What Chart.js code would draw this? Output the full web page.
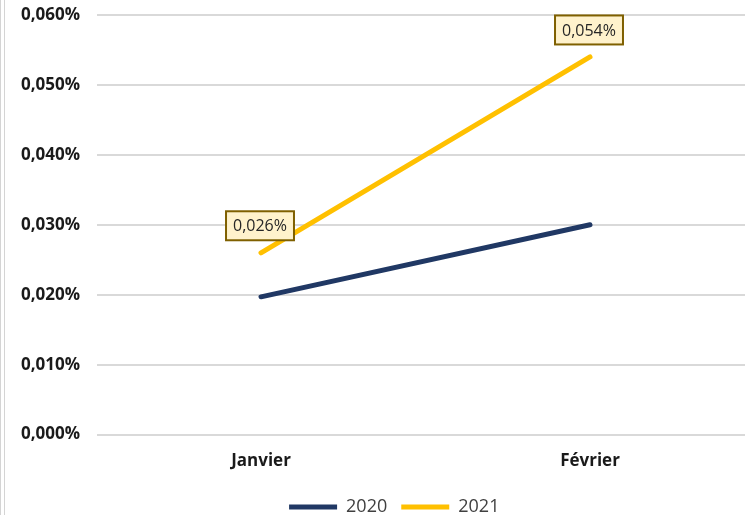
<!DOCTYPE html>
<html>
<head>
<meta charset="utf-8">
<script src="https://cdn.jsdelivr.net/npm/chart.js@4.4.1/dist/chart.umd.min.js"></script>
<style>
  html, body { margin:0; padding:0; background:#fff; overflow:hidden; width:745px; height:515px; }
  #wrap { position:absolute; left:0; top:0; width:760px; height:515px; }
  .edge { position:absolute; left:0; top:0; width:3px; height:515px; border-left:1px solid #d4d4d4; border-right:1px solid #d4d4d4; }
</style>
</head>
<body>
<div id="wrap"><canvas id="chart"></canvas></div>
<div class="edge"></div>
<script>
  const months = ['Janvier', 'Février'];
  const series2020 = [0.0197, 0.030];
  const series2021 = [0.026, 0.054];
  const yTicks = [0, 0.01, 0.02, 0.03, 0.04, 0.05, 0.06];

  const fmtPct = v => v.toFixed(3).replace('.', ',') + '%';

  // boxed value labels above the 2021 points
  const valueBoxes = {
    id: 'valueBoxes',
    afterDatasetsDraw(chart) {
      const ctx = chart.ctx;
      const meta = chart.getDatasetMeta(1);
      ctx.save();
      ctx.font = '16px "Open Sans"';
      ctx.textAlign = 'center';
      ctx.textBaseline = 'middle';
      meta.data.forEach((pt, i) => {
        const txt = fmtPct(series2021[i]);
        const w = ctx.measureText(txt).width + 14, h = 29;
        const cx = pt.x - 1, cy = pt.y - 27;
        ctx.fillStyle = '#fff2cc';
        ctx.fillRect(cx - w / 2, cy - h / 2, w, h);
        ctx.lineWidth = 2;
        ctx.strokeStyle = '#7f6000';
        ctx.strokeRect(cx - w / 2, cy - h / 2, w, h);
        ctx.fillStyle = '#262626';
        ctx.fillText(txt, cx, cy + 1);
      });
      ctx.restore();
    }
  };

  // nudge the legend row right and up a little
  const legendShift = {
    id: 'legendShift',
    afterLayout(chart) {
      const lg = chart.legend;
      lg.left += 10; lg.right += 10;
      lg.top -= 3; lg.bottom -= 3;
    }
  };

  new Chart(document.getElementById('chart'), {
    type: 'line',
    data: {
      labels: months,
      datasets: [
        { label: '2020', data: series2020, borderColor: '#203864', backgroundColor: '#203864',
          borderWidth: 5, borderCapStyle: 'round', pointRadius: 0, tension: 0 },
        { label: '2021', data: series2021, borderColor: '#ffc000', backgroundColor: '#ffc000',
          borderWidth: 5, borderCapStyle: 'round', pointRadius: 0, tension: 0 }
      ]
    },
    options: {
      responsive: true,
      maintainAspectRatio: false,
      animation: false,
      layout: { padding: { left: 14, right: 5.5, top: 15, bottom: -14 } },
      scales: {
        x: {
          offset: true,
          grid: { display: false, drawTicks: false },
          border: { display: false },
          ticks: { color: '#1a1a1a', font: { family: '"Open Sans"', size: 17, weight: 'bold' }, padding: 16 }
        },
        y: {
          min: 0, max: 0.06,
          afterBuildTicks: s => { s.ticks = yTicks.map(v => ({ value: v })); },
          afterFit: s => { s.width = 82.5; s.paddingTop = 0; s.paddingBottom = 0; },
          grid: { color: '#d9d9d9', lineWidth: 2, drawTicks: false },
          border: { display: false },
          ticks: { color: '#1a1a1a', font: { family: '"Open Sans"', size: 17, weight: 'bold' }, padding: 16.5,
                   callback: v => fmtPct(v) }
        }
      },
      plugins: {
        legend: {
          position: 'bottom',
          labels: {
            usePointStyle: true, pointStyle: 'line', pointStyleWidth: 48, boxHeight: 5,
            color: '#404040', font: { family: '"Open Sans"', size: 18 }, padding: 14
          }
        },
        tooltip: { enabled: false }
      }
    },
    plugins: [valueBoxes, legendShift]
  });
</script>
</body>
</html>
